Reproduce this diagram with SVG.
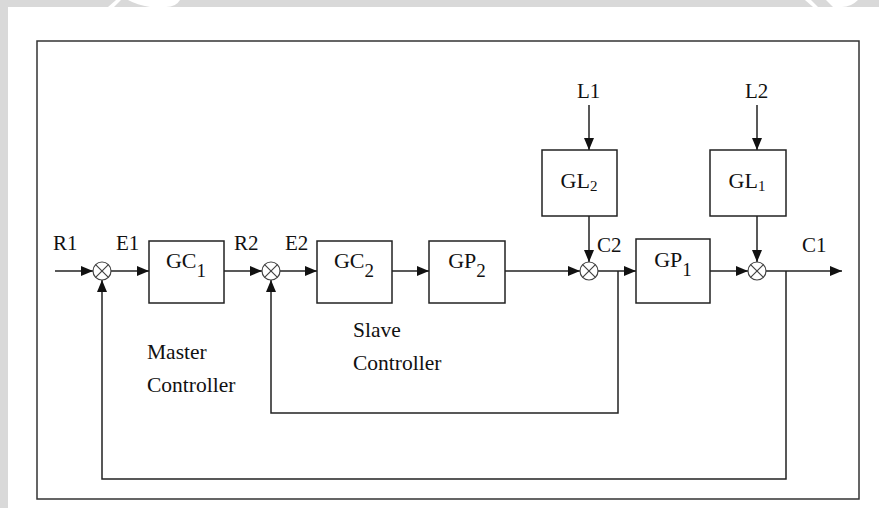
<svg xmlns="http://www.w3.org/2000/svg" width="879" height="508" viewBox="0 0 879 508">
  <defs>
    <marker id="arr" viewBox="0 0 12 10" refX="12" refY="5" markerWidth="12" markerHeight="10" markerUnits="userSpaceOnUse" orient="auto">
      <path d="M0,0 L12,5 L0,10 Z" fill="#111"/>
    </marker>
    <style>
      .ln{fill:none;stroke:#222;stroke-width:1.5}
      .box{fill:#fff;stroke:#222;stroke-width:1.5}
      .sum{fill:#fff;stroke:#444;stroke-width:1.2}
      .t{font-family:"Liberation Serif","Times New Roman",serif;font-size:21px;fill:#111}
      .b{font-family:"Liberation Serif","Times New Roman",serif;font-size:22px;fill:#111}
      .cap{font-family:"Liberation Serif","Times New Roman",serif;font-size:21.5px;fill:#111}
    </style>
  </defs>
  <rect x="0" y="0" width="879" height="508" fill="#d9d9d9"/>
  <rect x="8" y="7" width="871" height="501" fill="#fff"/>
  <path d="M108,7 L116,0 L121,0 L114,7 Z" fill="#fff"/>
  <path d="M128,0 L180,0 Q176,7 166,7 L150,7 Q137,5 128,0 Z" fill="#fff"/>
  <path d="M805,0 L811,0 L818,7 L813,7 Z" fill="#fff"/>
  <path d="M826,0 L858,0 Q851,7 842,7 L833,7 Z" fill="#fff"/>
  <rect x="37" y="41" width="822" height="458" fill="none" stroke="#333" stroke-width="1.5"/>

  <g id="connectors">
    <line class="ln" x1="55" y1="271" x2="93" y2="271" marker-end="url(#arr)"/>
    <line class="ln" x1="111" y1="271" x2="149" y2="271" marker-end="url(#arr)"/>
    <line class="ln" x1="224" y1="271" x2="262" y2="271" marker-end="url(#arr)"/>
    <line class="ln" x1="280" y1="271" x2="317" y2="271" marker-end="url(#arr)"/>
    <line class="ln" x1="392" y1="271" x2="429" y2="271" marker-end="url(#arr)"/>
    <line class="ln" x1="505" y1="271" x2="580" y2="271" marker-end="url(#arr)"/>
    <line class="ln" x1="598" y1="271" x2="636" y2="271" marker-end="url(#arr)"/>
    <line class="ln" x1="710" y1="271" x2="748" y2="271" marker-end="url(#arr)"/>
    <line class="ln" x1="766" y1="271" x2="842" y2="271" marker-end="url(#arr)"/>
    <line class="ln" x1="589" y1="105" x2="589" y2="150" marker-end="url(#arr)"/>
    <line class="ln" x1="589" y1="216" x2="589" y2="262" marker-end="url(#arr)"/>
    <line class="ln" x1="757" y1="105" x2="757" y2="150" marker-end="url(#arr)"/>
    <line class="ln" x1="757" y1="216" x2="757" y2="262" marker-end="url(#arr)"/>
    <polyline class="ln" points="618,271 618,413 271,413 271,280" marker-end="url(#arr)"/>
    <polyline class="ln" points="786,271 786,479 102,479 102,280" marker-end="url(#arr)"/>
  </g>

  <g id="sum1"><circle class="sum" cx="102" cy="271" r="9"/><path class="sum" d="M95.6,264.6 L108.4,277.4 M108.4,264.6 L95.6,277.4"/></g>
  <g id="sum2"><circle class="sum" cx="271" cy="271" r="9"/><path class="sum" d="M264.6,264.6 L277.4,277.4 M277.4,264.6 L264.6,277.4"/></g>
  <g id="sum3"><circle class="sum" cx="589" cy="271" r="9"/><path class="sum" d="M582.6,264.6 L595.4,277.4 M595.4,264.6 L582.6,277.4"/></g>
  <g id="sum4"><circle class="sum" cx="757" cy="271" r="9"/><path class="sum" d="M750.6,264.6 L763.4,277.4 M763.4,264.6 L750.6,277.4"/></g>

  <g id="GC1"><rect class="box" x="149" y="241" width="75" height="62"/><text class="b" x="186" y="268" text-anchor="middle">GC<tspan font-size="19" dy="9">1</tspan></text></g>
  <g id="GC2"><rect class="box" x="317" y="241" width="75" height="62"/><text class="b" x="354" y="268" text-anchor="middle">GC<tspan font-size="19" dy="9">2</tspan></text></g>
  <g id="GP2"><rect class="box" x="429" y="241" width="76" height="62"/><text class="b" x="467" y="268" text-anchor="middle">GP<tspan font-size="19" dy="9">2</tspan></text></g>
  <g id="GP1"><rect class="box" x="636" y="239" width="74" height="64"/><text class="b" x="673" y="267" text-anchor="middle">GP<tspan font-size="19" dy="9">1</tspan></text></g>
  <g id="GL2"><rect class="box" x="542" y="150" width="75" height="66"/><text class="b" x="579" y="188" text-anchor="middle">GL<tspan font-size="15" dy="3">2</tspan></text></g>
  <g id="GL1"><rect class="box" x="710" y="150" width="76" height="66"/><text class="b" x="747" y="188" text-anchor="middle">GL<tspan font-size="15" dy="3">1</tspan></text></g>

  <g id="labels">
    <text class="t" x="53" y="250">R1</text>
    <text class="t" x="116" y="250">E1</text>
    <text class="t" x="234" y="250">R2</text>
    <text class="t" x="285" y="250">E2</text>
    <text class="t" x="597" y="252">C2</text>
    <text class="t" x="802" y="252">C1</text>
    <text class="t" x="577" y="98">L1</text>
    <text class="t" x="745" y="98">L2</text>
    <text class="cap" x="147" y="359">Master</text>
    <text class="cap" x="147" y="392">Controller</text>
    <text class="cap" x="353" y="337">Slave</text>
    <text class="cap" x="353" y="370">Controller</text>
  </g>
</svg>
